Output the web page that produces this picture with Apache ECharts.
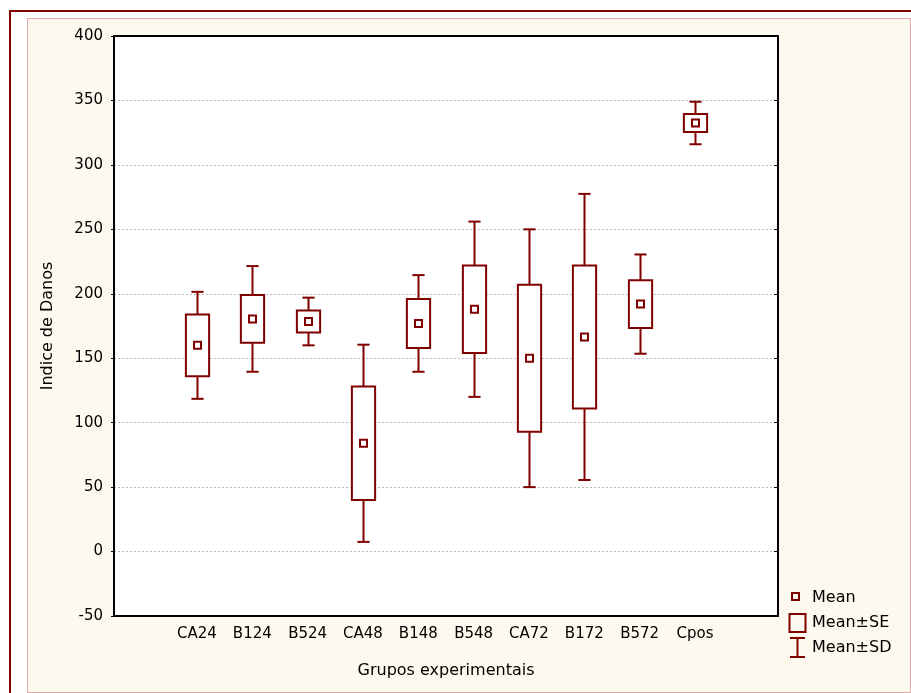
<!DOCTYPE html>
<html>
<head>
<meta charset="utf-8">
<script src="https://cdn.jsdelivr.net/npm/echarts@6/dist/echarts.min.js"></script>
<style>
html,body{margin:0;padding:0;background:#ffffff;width:911px;height:693px;overflow:hidden;}
#outer{position:absolute;left:9px;top:10px;width:920px;height:700px;border-top:2px solid #800000;border-left:2px solid #800000;}
#panel{position:absolute;left:27px;top:18px;width:882px;height:673px;background:#FEF9EE;border:1px solid #dcaaaa;}
#chart{position:absolute;left:0;top:0;width:911px;height:693px;}
</style>
</head>
<body>
<div id="outer"></div>
<div id="panel"></div>
<div id="chart"></div>
<script>
// Categories (empty padding slots at both ends of the axis)
const groups = ['CA24', 'B124', 'B524', 'CA48', 'B148', 'B548', 'CA72', 'B172', 'B572', 'Cpos'];
const means  = [160, 180.5, 178.5, 84, 177, 188, 150, 166.5, 192, 332.5];
const se     = [24, 18.5, 8.5, 44, 19, 34, 57, 55.5, 18.5, 7];
const sd     = [41.5, 41, 18.5, 76.5, 37.5, 68, 100, 111, 38.5, 16.5];
const yTicks = [-50, 0, 50, 100, 150, 200, 250, 300, 350, 400];

const categories = [''].concat(groups).concat(['']);
const seriesData = groups.map((g, i) => [g, means[i], se[i], sd[i]]);

const RED = '#800000';
const FONT = 'DejaVu Sans';

const chart = echarts.init(document.getElementById('chart'), null, {renderer: 'canvas'});

function renderItem(params, api) {
  const xi = api.value(0);
  const m = api.value(1), s = api.value(2), d = api.value(3);
  const slot = api.size([1, 0])[0];
  const bw = slot * 0.42, cw = slot * 0.22;
  const pm = api.coord([xi, m]);
  const cx = Math.round(pm[0]) + 0.5;
  const ySEhi = api.coord([xi, m + s])[1];
  const ySElo = api.coord([xi, m - s])[1];
  const ySDhi = api.coord([xi, m + d])[1];
  const ySDlo = api.coord([xi, m - d])[1];
  const lineStyle = {stroke: RED, lineWidth: 2, fill: null};
  return {
    type: 'group',
    children: [
      {type: 'line', shape: {x1: cx, y1: ySDhi, x2: cx, y2: ySDlo}, style: lineStyle},
      {type: 'line', shape: {x1: cx - cw / 2, y1: ySDhi, x2: cx + cw / 2, y2: ySDhi}, style: lineStyle},
      {type: 'line', shape: {x1: cx - cw / 2, y1: ySDlo, x2: cx + cw / 2, y2: ySDlo}, style: lineStyle},
      {type: 'rect', shape: {x: cx - bw / 2, y: ySEhi, width: bw, height: ySElo - ySEhi},
        style: {stroke: RED, lineWidth: 2, fill: '#ffffff'}},
      {type: 'rect', shape: {x: cx - 3.5, y: pm[1] - 3.5, width: 7, height: 7},
        style: {stroke: RED, lineWidth: 2, fill: '#ffffff'}}
    ]
  };
}

const legendText = {fill: '#000', font: '16px "DejaVu Sans"', textVerticalAlign: 'middle'};

const option = {
  backgroundColor: 'transparent',
  animation: false,
  grid: {left: 114, right: 133, top: 36, bottom: 77, show: true, backgroundColor: '#ffffff', borderWidth: 0},
  xAxis: [{
    type: 'category', data: categories, position: 'bottom',
    boundaryGap: true,
    axisLine: {onZero: false, lineStyle: {color: '#000', width: 2}},
    axisTick: {inside: true, length: 5, alignWithLabel: true, interval: 0, lineStyle: {color: '#000', width: 1}},
    axisLabel: {interval: 0, color: '#000', fontFamily: FONT, fontSize: 15, margin: 11},
    name: 'Grupos experimentais', nameLocation: 'middle', nameGap: 47,
    nameTextStyle: {color: '#000', fontFamily: FONT, fontSize: 16},
    splitLine: {show: false}
  }, {
    type: 'category', data: categories, position: 'top',
    boundaryGap: true,
    axisLine: {onZero: false, lineStyle: {color: '#000', width: 2}},
    axisTick: {inside: true, length: 5, alignWithLabel: true, interval: 0, lineStyle: {color: '#000', width: 1}},
    axisLabel: {show: false},
    splitLine: {show: false}
  }],
  yAxis: [{
    type: 'value', min: -50, max: 400, interval: 50, position: 'left',
    axisLine: {show: true, onZero: false, lineStyle: {color: '#000', width: 2}},
    axisTick: {show: true, inside: false, length: 3, lineStyle: {color: '#000'}},
    axisLabel: {color: '#000', fontFamily: FONT, fontSize: 15, margin: 11,
      formatter: v => yTicks.indexOf(v) >= 0 ? String(v) : ''},
    splitLine: {show: true, lineStyle: {color: '#bcbcbc', type: [2, 2], width: 1}},
    name: 'Indice de Danos', nameLocation: 'middle', nameGap: 58,
    nameTextStyle: {color: '#000', fontFamily: FONT, fontSize: 16}
  }, {
    type: 'value', min: -50, max: 400, interval: 50, position: 'right',
    axisLine: {show: true, onZero: false, lineStyle: {color: '#000', width: 2}},
    axisTick: {show: true, inside: true, length: 4, lineStyle: {color: '#000'}},
    axisLabel: {show: false},
    splitLine: {show: false}
  }],
  graphic: [
    {type: 'rect', shape: {x: 792, y: 593, width: 7, height: 7}, style: {stroke: RED, lineWidth: 2, fill: null}},
    {type: 'text', x: 812, y: 598, style: Object.assign({text: 'Mean'}, legendText)},
    {type: 'rect', shape: {x: 789.5, y: 614, width: 16, height: 18}, style: {stroke: RED, lineWidth: 2, fill: null}},
    {type: 'text', x: 812, y: 623, style: Object.assign({text: 'Mean±SE'}, legendText)},
    {type: 'line', shape: {x1: 797.5, y1: 638, x2: 797.5, y2: 657}, style: {stroke: RED, lineWidth: 2}},
    {type: 'line', shape: {x1: 790, y1: 638, x2: 805, y2: 638}, style: {stroke: RED, lineWidth: 2}},
    {type: 'line', shape: {x1: 790, y1: 657, x2: 805, y2: 657}, style: {stroke: RED, lineWidth: 2}},
    {type: 'text', x: 812, y: 648, style: Object.assign({text: 'Mean±SD'}, legendText)}
  ],
  series: [{
    type: 'custom',
    xAxisIndex: 0, yAxisIndex: 0,
    renderItem: renderItem,
    encode: {x: 0, y: [1]},
    data: seriesData,
    clip: false
  }]
};
chart.setOption(option);
</script>
</body>
</html>
